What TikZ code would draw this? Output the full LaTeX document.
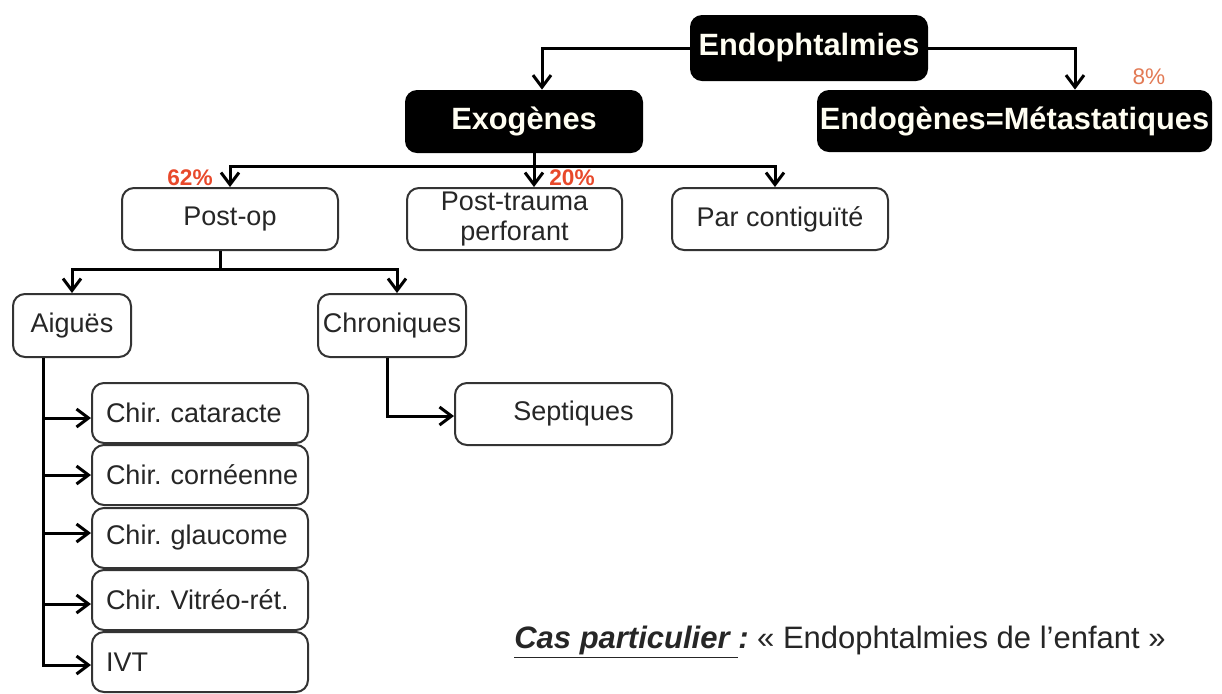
\documentclass[tikz,border=0pt]{standalone}
\usepackage{fontspec}
\setmainfont{Liberation Sans}
\usetikzlibrary{arrows.meta,calc}
\definecolor{pcred}{HTML}{E8492B}
\definecolor{pcor}{HTML}{E27A55}
\definecolor{txt}{HTML}{262626}
\frenchspacing
\begin{document}
\frenchspacing
\begin{tikzpicture}[x=0.5pt,y=-0.5pt,
  blk/.style={rectangle, rounded corners=6pt, fill=black, text=white!95!yellow, font=\fontsize{15.4}{18}\selectfont\bfseries, inner sep=0pt},
  wbox/.style={rectangle, rounded corners=6pt, draw=black!80, line width=1pt, fill=white, font=\fontsize{13.5}{15}\selectfont\frenchspacing, inner sep=0pt, text=txt, minimum height=31pt},
  lbox/.style={wbox, align=left, inner xsep=3.5pt, text width=101pt, minimum height=30pt, execute at begin node={\hspace*{3.5pt}}},
  arr/.style={line width=1.5pt, -{Straight Barb[length=6pt,width=9pt]}},
  ln/.style={line width=1.5pt},
  pct/.style={font=\fontsize{11.3}{13}\selectfont\bfseries, text=pcred, inner sep=0pt}]
\useasboundingbox (0,0) rectangle (1222,693);

% top level
\node[blk, minimum width=119pt, minimum height=33pt] (endo) at (809,48) {Endophtalmies};
\node[blk, minimum width=119pt, minimum height=31.5pt] (exo) at (524,121.5) {Exogènes};
\node[blk, minimum width=197.5pt, minimum height=31pt] (endog) at (1014.5,121) {Endogènes=Métastatiques};

% second level
\node[wbox, minimum width=108pt] (postop) at (230,219) {Post-op};
\node[wbox, minimum width=107.5pt, align=center] (trauma) at (514.5,219) {Post-trauma\\perforant};
\node[wbox, minimum width=108pt] (contig) at (780,219) {Par contiguïté};

% third level
\node[wbox, minimum width=59pt, minimum height=31.5pt] (aigues) at (72,325.5) {Aiguës};
\node[wbox, minimum width=74pt, minimum height=31.5pt] (chron) at (392,325.5) {Chroniques};

% fourth level
\node[lbox] (cata) at (200,413) {Chir. cataracte};
\node[lbox] (corn) at (200,475) {Chir. cornéenne};
\node[lbox] (glau) at (200,538) {Chir. glaucome};
\node[lbox] (vitr) at (200,600) {Chir. Vitréo-rét.};
\node[lbox] (ivt) at (200,662) {IVT};
\node[wbox, minimum width=108.5pt] (sept) at (563.5,414) {\hspace*{10pt}Septiques};

% percentages
\node[pct] (p62) at (190,178) {62\%};
\node[pct] (p20) at (572,178) {20\%};
\node[pct, font=\fontsize{11.3}{13}\selectfont, text=pcor] (p8) at (1149,77) {8\%};

% connectors
\draw[arr] (endo.west) -| ($(exo.north)+(18,0)$);
\draw[arr] (endo.east) -| ($(endog.north)+(60.5,0)$);

\coordinate (b1) at (534,166);
\draw[ln] ($(exo.south)+(10,0)$) -- (b1);
\draw[arr] (b1) -- ($(trauma.north)+(19.5,0)$);
\draw[arr] (b1) -| (postop.north);
\draw[arr] (b1) -| ($(contig.north)+(-5,0)$);

\coordinate (b2) at (220,269);
\draw[ln] ($(postop.south)+(-10,0)$) -- (b2);
\draw[arr] (b2) -| (aigues.north);
\draw[arr] (b2) -| ($(chron.north)+(5,0)$);

\coordinate (s1) at ($(aigues.south)+(-29,0)$);
\draw[arr] (s1) |- ($(cata.west)+(0,5)$);
\draw[arr] (s1) |- (corn.west);
\draw[arr] (s1) |- ($(glau.west)+(0,-5)$);
\draw[arr] (s1) |- ($(vitr.west)+(0,4)$);
\draw[arr] (s1) |- ($(ivt.west)+(0,3)$);

\draw[arr] ($(chron.south)+(-5,0)$) |- ($(sept.west)+(0,2)$);

% note
\node[font=\fontsize{15.5}{18}\selectfont, text=txt, inner sep=0pt] (cas) at (840,642)
  {\textbf{\textit{\underline{Cas particulier }:}} « Endophtalmies de l’enfant »};
\end{tikzpicture}
\end{document}
